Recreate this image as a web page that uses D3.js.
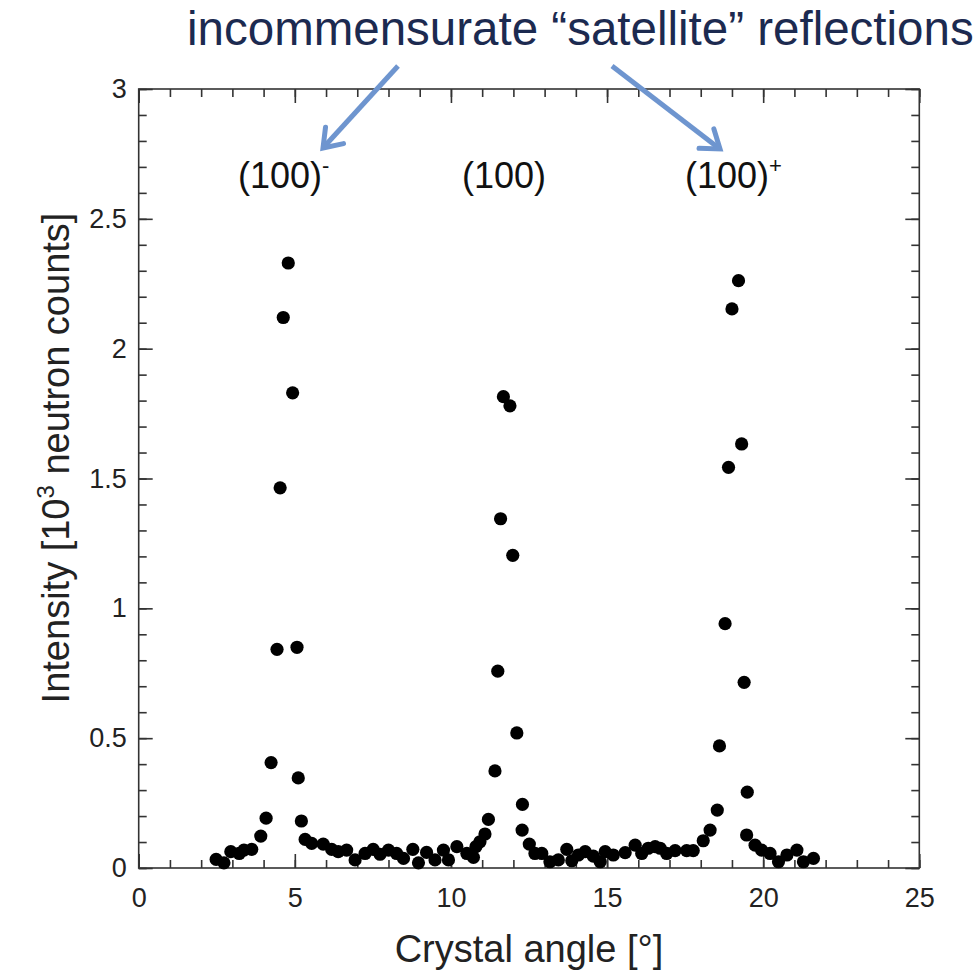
<!DOCTYPE html>
<html>
<head>
<meta charset="utf-8">
<script src="https://cdn.jsdelivr.net/npm/d3@7"></script>
<style>
  html, body { margin: 0; padding: 0; background: #fff; }
  svg { display: block; }
  text { font-family: "Liberation Sans", Arial, Helvetica, sans-serif; }
</style>
</head>
<body>
<svg id="chart" width="977" height="970"></svg>
<script>
// ---- data ----
const crystalAngle = [2.48, 2.73, 2.95, 3.22, 3.37, 3.62, 3.91, 4.08, 4.24, 4.43, 4.53, 4.63, 4.79, 4.93, 5.07, 5.11, 5.21, 5.33, 5.54, 5.91,
  6.18, 6.39, 6.66, 6.93, 7.25, 7.51, 7.73, 8.0, 8.26, 8.48, 8.78, 8.96, 9.22, 9.49, 9.76, 9.92, 10.19, 10.51, 10.72, 10.80,
  10.93, 11.09, 11.20, 11.41, 11.50, 11.59, 11.68, 11.89, 11.98, 12.11, 12.29, 12.28, 12.51, 12.69, 12.91, 13.17, 13.44, 13.71, 13.87, 14.08,
  14.30, 14.56, 14.78, 14.94, 15.20, 15.58, 15.90, 16.11, 16.32, 16.54, 16.70, 16.91, 17.18, 17.55, 17.76, 18.08, 18.30, 18.53, 18.60, 18.78,
  18.89, 19.00, 19.21, 19.31, 19.39, 19.49, 19.47, 19.74, 19.95, 20.22, 20.49, 20.76, 21.08, 21.29, 21.61];
const intensity = [0.033, 0.02, 0.063, 0.056, 0.069, 0.072, 0.123, 0.192, 0.406, 0.842, 1.464, 2.12, 2.33, 1.83, 0.85, 0.347, 0.181, 0.11, 0.095, 0.092,
  0.072, 0.063, 0.069, 0.031, 0.056, 0.072, 0.053, 0.069, 0.056, 0.037, 0.072, 0.02, 0.06, 0.031, 0.069, 0.031, 0.082, 0.056, 0.041, 0.082,
  0.101, 0.131, 0.187, 0.374, 0.758, 1.345, 1.815, 1.78, 1.204, 0.52, 0.245, 0.146, 0.092, 0.056, 0.056, 0.024, 0.031, 0.072, 0.028, 0.05,
  0.063, 0.046, 0.024, 0.063, 0.05, 0.059, 0.088, 0.056, 0.076, 0.082, 0.076, 0.056, 0.067, 0.067, 0.067, 0.105, 0.146, 0.223, 0.47, 0.941,
  1.543, 2.153, 2.262, 1.633, 0.715, 0.292, 0.127, 0.088, 0.069, 0.056, 0.024, 0.05, 0.069, 0.024, 0.037];
const xTicks = [0, 5, 10, 15, 20, 25];
const yTicks = [0, 0.5, 1, 1.5, 2, 2.5, 3];
const xMinor = d3.range(0, 26, 1);
const yMinor = d3.range(0, 31, 1).map(d => d / 10);
const peakAngles = [4.64, 11.70, 19.05];
const peakNames = ["(100)", "(100)", "(100)"];
const peakSups = ["-", "", "+"];
const titleText = "incommensurate \u201Csatellite\u201D reflections";
const xLabel = "Crystal angle [\u00B0]";

// ---- layout ----
const L = 138.7, R = 919.3, T = 89, B = 868;
const svg = d3.select("#chart");
const x = d3.scaleLinear().domain([0, 25]).range([L, R]);
const y = d3.scaleLinear().domain([0, 3]).range([B, T]);
const axisColor = "#333";

function styleAxis(g) {
  g.selectAll("path.domain").remove();
  g.selectAll("line").attr("stroke", axisColor).attr("stroke-width", 1.6);
  g.selectAll("text").attr("fill", "#222").attr("font-size", 27);
}

// minor ticks
svg.append("g").attr("transform", `translate(0,${B})`)
  .call(d3.axisBottom(x).tickValues(xMinor).tickSize(-8).tickSizeOuter(0).tickFormat("")).call(styleAxis);
svg.append("g").attr("transform", `translate(0,${T})`)
  .call(d3.axisTop(x).tickValues(xMinor).tickSize(-8).tickSizeOuter(0).tickFormat("")).call(styleAxis);
svg.append("g").attr("transform", `translate(${L},0)`)
  .call(d3.axisLeft(y).tickValues(yMinor).tickSize(-8).tickSizeOuter(0).tickFormat("")).call(styleAxis);
svg.append("g").attr("transform", `translate(${R},0)`)
  .call(d3.axisRight(y).tickValues(yMinor).tickSize(-8).tickSizeOuter(0).tickFormat("")).call(styleAxis);
// major ticks
svg.append("g").attr("transform", `translate(0,${B})`)
  .call(d3.axisBottom(x).tickValues(xTicks).tickSize(-14).tickSizeOuter(0).tickPadding(20).tickFormat(d => String(d))).call(styleAxis);
svg.append("g").attr("transform", `translate(0,${T})`)
  .call(d3.axisTop(x).tickValues(xTicks).tickSize(-14).tickSizeOuter(0).tickFormat("")).call(styleAxis);
svg.append("g").attr("transform", `translate(${L},0)`)
  .call(d3.axisLeft(y).tickValues(yTicks).tickSize(-14).tickSizeOuter(0).tickPadding(12).tickFormat(d => String(d))).call(styleAxis);
svg.append("g").attr("transform", `translate(${R},0)`)
  .call(d3.axisRight(y).tickValues(yTicks).tickSize(-14).tickSizeOuter(0).tickFormat("")).call(styleAxis);

// frame
svg.append("rect").attr("x", L).attr("y", T).attr("width", R - L).attr("height", B - T)
  .attr("fill", "none").attr("stroke", axisColor).attr("stroke-width", 1.6);

// points
svg.append("g").selectAll("circle").data(crystalAngle.map((a, i) => [a, intensity[i]]))
  .join("circle")
  .attr("cx", d => x(d[0])).attr("cy", d => y(d[1])).attr("r", 6.6).attr("fill", "#000");

// peak labels
const pl = svg.append("g").selectAll("text").data(peakAngles).join("text")
  .attr("x", d => x(d)).attr("y", 188).attr("text-anchor", "middle")
  .attr("font-size", 36).attr("fill", "#111");
pl.append("tspan").text((d, i) => peakNames[i]);
pl.append("tspan").attr("dy", -15).attr("font-size", 22).text((d, i) => peakSups[i]);

// axis titles
svg.append("text").attr("x", (L + R) / 2).attr("y", 962).attr("text-anchor", "middle")
  .attr("font-size", 38).attr("fill", "#222").text(xLabel);
const yt = svg.append("text").attr("transform", "translate(69,458) rotate(-90)")
  .attr("text-anchor", "middle").attr("font-size", 38).attr("fill", "#222");
yt.append("tspan").text("Intensity [10");
yt.append("tspan").attr("dy", -15).attr("font-size", 24).text("3");
yt.append("tspan").attr("dy", 15).text(" neutron counts]");

// title
svg.append("text").attr("x", 187).attr("y", 45).attr("font-size", 47.5).attr("fill", "#1c2a50")
  .text(titleText);

// arrows
const arrowColor = "#6e95cf";
function arrow(x1, y1, x2, y2) {
  const ang = Math.atan2(y2 - y1, x2 - x1);
  const len = 21, spread = 0.62;
  const a1 = [x2 - len * Math.cos(ang - spread), y2 - len * Math.sin(ang - spread)];
  const a2 = [x2 - len * Math.cos(ang + spread), y2 - len * Math.sin(ang + spread)];
  svg.append("line").attr("x1", x1).attr("y1", y1).attr("x2", x2 - 3 * Math.cos(ang)).attr("y2", y2 - 3 * Math.sin(ang))
    .attr("stroke", arrowColor).attr("stroke-width", 5);
  svg.append("path").attr("d", `M${a1[0]},${a1[1]} L${x2},${y2} L${a2[0]},${a2[1]}`)
    .attr("fill", "none").attr("stroke", arrowColor).attr("stroke-width", 5)
    .attr("stroke-linejoin", "miter").attr("stroke-linecap", "round");
}
arrow(398, 66, 323, 148);
arrow(612, 66, 720, 149);
</script>
</body>
</html>
